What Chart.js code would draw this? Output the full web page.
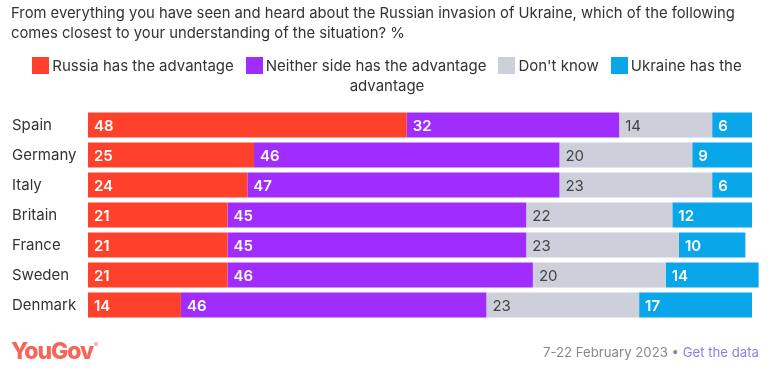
<!DOCTYPE html>
<html><head><meta charset="utf-8">
<script src="https://cdn.jsdelivr.net/npm/chart.js@4"></script>
<style>
html,body{margin:0;padding:0;background:#fff;}
body{width:774px;height:382px;position:relative;overflow:hidden;font-family:Inter,"Noto Sans",sans-serif;}
#title{position:absolute;left:11px;top:3px;width:760px;font-size:14.8px;line-height:20px;color:#333;}
#legend{position:absolute;left:0;top:56px;width:774px;text-align:center;font-size:15px;line-height:20px;color:#333;}
#legend .it{display:inline-block;margin:0 6px;white-space:nowrap;vertical-align:top;}
#legend .sw{display:inline-block;width:17px;height:17px;vertical-align:-3px;margin-right:3px;}
#wrap{position:absolute;left:0;top:0;width:774px;height:382px;}
#logo{position:absolute;left:11px;top:337px;font-size:23px;font-weight:800;color:#f4655a;letter-spacing:-1.1px;}
#logo sup{font-size:6px;font-weight:400;vertical-align:top;position:relative;top:4px;margin-left:1px;}
#foot{position:absolute;right:15px;top:344px;font-size:13.2px;color:#888;}
#foot a{color:#8b80e6;text-decoration:none;}
</style></head>
<body>
<div id="wrap"><canvas id="c" width="774" height="382"></canvas></div>
<div id="title">From everything you have seen and heard about the Russian invasion of Ukraine, which of the following comes closest to your understanding of the situation? %</div>
<div id="legend"></div>
<div id="logo">YouGov<sup>®</sup></div>
<div id="foot">7-22 February 2023 • <a>Get the data</a></div>
<script>
const countries = ["Spain","Germany","Italy","Britain","France","Sweden","Denmark"];
const russiaAdv = [48,25,24,21,21,21,14];
const neitherAdv = [32,46,47,45,45,46,46];
const dontKnow = [14,20,23,22,23,20,23];
const ukraineAdv = [6,9,6,12,10,14,17];
const seriesNames = ["Russia has the advantage","Neither side has the advantage","Don't know","Ukraine has the advantage"];
const seriesColors = ["#ff412c","#a02cfe","#cdd0da","#0aa6ea"];
const labelColors = ["#ffffff","#ffffff","#444444","#ffffff"];

// HTML legend
const leg = document.getElementById('legend');
seriesNames.forEach((n,i)=>{
  const s = document.createElement('span'); s.className='it';
  const sw = document.createElement('span'); sw.className='sw'; sw.style.background=seriesColors[i];
  s.appendChild(sw);
  if(i===3){ s.appendChild(document.createTextNode('Ukraine has the')); }
  else s.appendChild(document.createTextNode(n));
  leg.appendChild(s);
});
leg.appendChild(document.createElement('br'));
leg.appendChild(document.createTextNode('advantage'));

const valueLabels = {
  id:'valueLabels',
  afterDatasetsDraw(chart){
    const ctx = chart.ctx;
    ctx.save();
    ctx.textBaseline='middle';
    ctx.textAlign='left';
    chart.data.datasets.forEach((ds,di)=>{
      const meta = chart.getDatasetMeta(di);
      meta.data.forEach((el,j)=>{
        const left = Math.min(el.x, el.base);
        ctx.fillStyle = labelColors[di];
        ctx.font = (di===2?'400':'600')+' 15px Inter, sans-serif';
        ctx.fillText(String(ds.data[j]), left+6, el.y+1);
      });
    });
    ctx.restore();
  }
};

new Chart(document.getElementById('c'),{
  type:'bar',
  data:{
    labels:countries,
    datasets:[russiaAdv,neitherAdv,dontKnow,ukraineAdv].map((d,i)=>({
      label:seriesNames[i], data:d, backgroundColor:seriesColors[i],
      borderWidth:0, barPercentage:0.834, categoryPercentage:1, clip:false
    }))
  },
  options:{
    indexAxis:'y',
    responsive:false,
    animation:false,
    events:[],
    layout:{padding:{left:12,right:22,top:110,bottom:62}},
    plugins:{legend:{display:false},title:{display:false},tooltip:{enabled:false}},
    scales:{
      x:{stacked:true,min:0,max:100,display:false},
      y:{stacked:true,
         grid:{display:false,drawBorder:false},
         border:{display:false},
         afterFit(s){ s.width = 76; },
         ticks:{crossAlign:'far',color:'#333',font:{family:'Inter',size:15},padding:0}
      }
    }
  },
  plugins:[valueLabels]
});
</script>
</body></html>
